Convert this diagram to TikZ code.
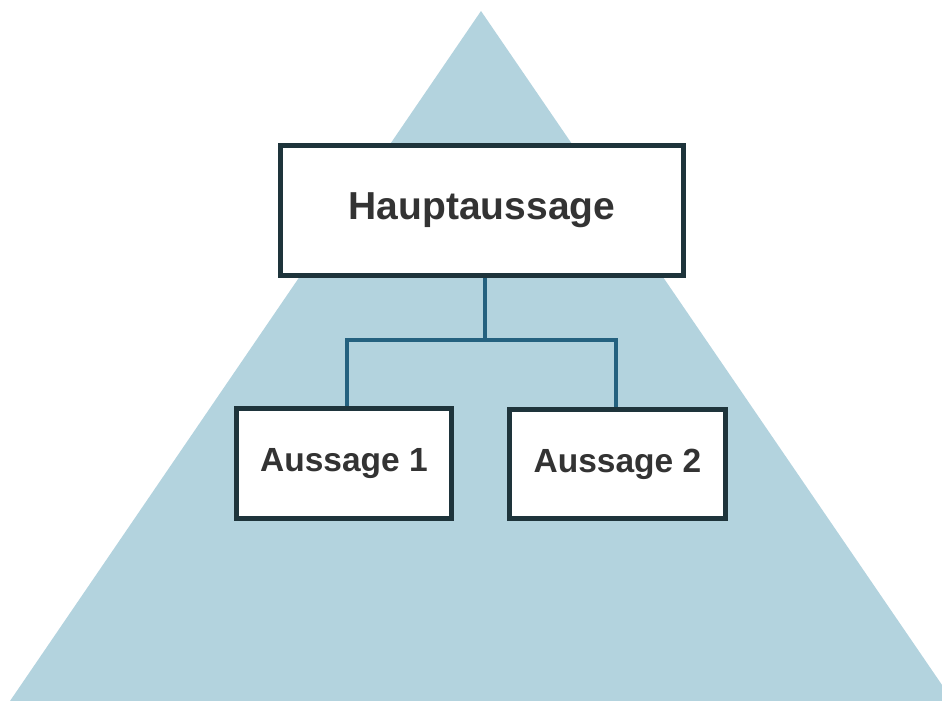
\documentclass[tikz,border=0pt]{standalone}
\usepackage{fontspec}
\setmainfont{Liberation Sans}
\definecolor{tri}{HTML}{B3D3DE}
\definecolor{boxline}{HTML}{1E343B}
\definecolor{conncol}{HTML}{24617F}
\definecolor{txt}{HTML}{333333}
\begin{document}
\begin{tikzpicture}[x=1pt,y=-1pt,
  box/.style={draw=boxline, line width=5pt, fill=white, inner sep=0pt, text=txt, font=\bfseries},
  conn/.style={draw=conncol, line width=4pt}]
\useasboundingbox (0,0) rectangle (942,701);
\begin{scope}
\clip (0,0) rectangle (942,701);
\fill[tri] (481,11) -- (10,701) -- (953,701) -- cycle;
\end{scope}
\node[box, minimum width=403pt, minimum height=130pt, font=\fontsize{39}{46}\selectfont\bfseries] (main) at (482,210.5) {Hauptaussage};
\node[box, minimum width=215pt, minimum height=110pt, font=\fontsize{33.5}{40}\selectfont\bfseries] (b1) at (344,463.5) {Aussage 1};
\node[box, minimum width=216pt, minimum height=109pt, font=\fontsize{33.5}{40}\selectfont\bfseries] (b2) at (617.5,464) {Aussage 2};
\coordinate (j) at (485,340);
\begin{scope}[on background layer/.try]
\end{scope}
\draw[conn] ([xshift=3pt]b1.north) |- (j) -| ([xshift=-2pt]b2.north);
\draw[conn] ([xshift=3pt]main.south) -- (j);
\end{tikzpicture}
\end{document}
